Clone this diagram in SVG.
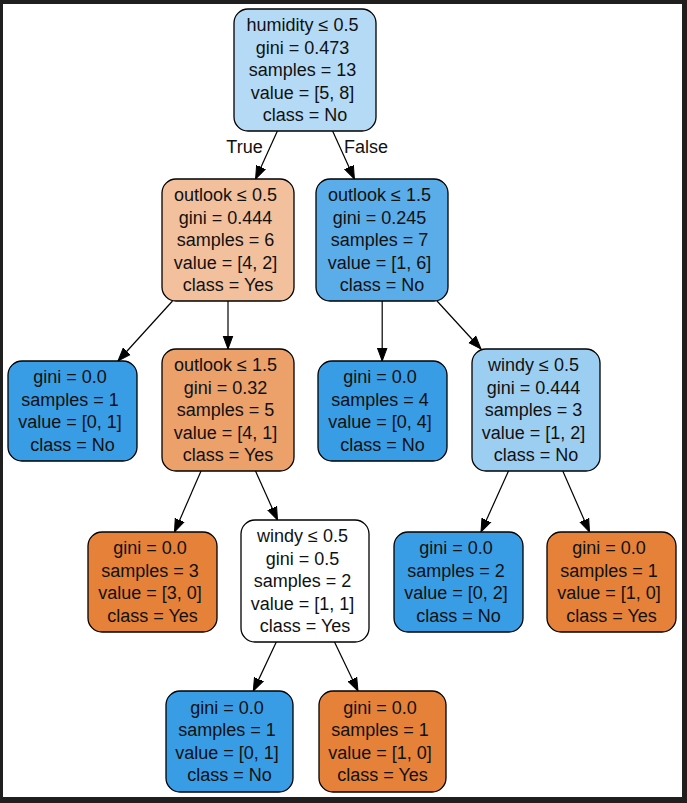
<svg xmlns="http://www.w3.org/2000/svg" width="687" height="803" viewBox="0 0 687 803">
  <style>
    .box { stroke: #000; stroke-width: 1.3; }
    .lbl { font-family: "Liberation Sans", Arial, Helvetica, sans-serif; font-size: 18px; fill: #111; text-anchor: middle; }
    .edge { stroke: #000; stroke-width: 1.2; fill: none; marker-end: url(#arrow); }
  </style>
  <defs>
    <marker id="arrow" markerUnits="userSpaceOnUse" markerWidth="14" markerHeight="12" viewBox="0 -6 14 12" refX="13" refY="0" orient="auto">
      <path d="M0,-4.8 L13,0 L0,4.8 z" fill="#000" stroke="#000" stroke-width="1"/>
    </marker>
  </defs>

  <!-- frame -->
  <rect x="0" y="0" width="687" height="803" fill="#1f1f1f"/>
  <rect x="3" y="4" width="679" height="793" fill="#ffffff"/>

  <!-- connectors -->
  <g id="edges">
    <line class="edge" x1="277.4" y1="131" x2="255.6" y2="179"/>
    <line class="edge" x1="332.6" y1="131" x2="354.4" y2="179"/>
    <line class="edge" x1="172.5" y1="301" x2="118" y2="361"/>
    <line class="edge" x1="228" y1="301" x2="228" y2="349"/>
    <line class="edge" x1="382.2" y1="301" x2="382.2" y2="361"/>
    <line class="edge" x1="437" y1="301" x2="481" y2="349"/>
    <line class="edge" x1="201" y1="471" x2="174.5" y2="532"/>
    <line class="edge" x1="255.5" y1="471" x2="277.5" y2="520"/>
    <line class="edge" x1="508.5" y1="471" x2="481" y2="532"/>
    <line class="edge" x1="562.8" y1="471" x2="589.5" y2="532"/>
    <line class="edge" x1="276.3" y1="642" x2="253.3" y2="691"/>
    <line class="edge" x1="334.5" y1="642" x2="358" y2="691"/>
    <text class="lbl" x="244.5" y="153">True</text>
    <text class="lbl" x="366" y="153">False</text>
  </g>

  <!-- root split -->
  <g id="node0">
    <rect class="box" x="234" y="9" width="142" height="122" rx="14" fill="#b5daf5"/>
    <text class="lbl">
      <tspan x="305" y="31">humidity ≤ 0.5</tspan>
      <tspan x="305" y="53.5">gini = 0.473</tspan>
      <tspan x="305" y="76">samples = 13</tspan>
      <tspan x="305" y="98.5">value = [5, 8]</tspan>
      <tspan x="305" y="121">class = No</tspan>
    </text>
  </g>

  <g id="node1">
    <rect class="box" x="162" y="179" width="132" height="122" rx="14" fill="#f2c09c"/>
    <text class="lbl">
      <tspan x="228" y="201">outlook ≤ 0.5</tspan>
      <tspan x="228" y="223.5">gini = 0.444</tspan>
      <tspan x="228" y="246">samples = 6</tspan>
      <tspan x="228" y="268.5">value = [4, 2]</tspan>
      <tspan x="228" y="291">class = Yes</tspan>
    </text>
  </g>

  <g id="node6">
    <rect class="box" x="316" y="179" width="132" height="122" rx="14" fill="#5aade9"/>
    <text class="lbl">
      <tspan x="382" y="201">outlook ≤ 1.5</tspan>
      <tspan x="382" y="223.5">gini = 0.245</tspan>
      <tspan x="382" y="246">samples = 7</tspan>
      <tspan x="382" y="268.5">value = [1, 6]</tspan>
      <tspan x="382" y="291">class = No</tspan>
    </text>
  </g>

  <g id="node2">
    <rect class="box" x="8" y="361" width="129" height="100" rx="14" fill="#399de5"/>
    <text class="lbl">
      <tspan x="72.5" y="383.3">gini = 0.0</tspan>
      <tspan x="72.5" y="405.8">samples = 1</tspan>
      <tspan x="72.5" y="428.3">value = [0, 1]</tspan>
      <tspan x="72.5" y="450.8">class = No</tspan>
    </text>
  </g>

  <g id="node3">
    <rect class="box" x="162" y="349" width="132" height="122" rx="14" fill="#eca06a"/>
    <text class="lbl">
      <tspan x="228" y="371">outlook ≤ 1.5</tspan>
      <tspan x="228" y="393.5">gini = 0.32</tspan>
      <tspan x="228" y="416">samples = 5</tspan>
      <tspan x="228" y="438.5">value = [4, 1]</tspan>
      <tspan x="228" y="461">class = Yes</tspan>
    </text>
  </g>

  <g id="node7">
    <rect class="box" x="318" y="361" width="129" height="100" rx="14" fill="#399de5"/>
    <text class="lbl">
      <tspan x="382.5" y="383.3">gini = 0.0</tspan>
      <tspan x="382.5" y="405.8">samples = 4</tspan>
      <tspan x="382.5" y="428.3">value = [0, 4]</tspan>
      <tspan x="382.5" y="450.8">class = No</tspan>
    </text>
  </g>

  <g id="node8">
    <rect class="box" x="472" y="349" width="128" height="122" rx="14" fill="#9ccef2"/>
    <text class="lbl">
      <tspan x="536" y="371">windy ≤ 0.5</tspan>
      <tspan x="536" y="393.5">gini = 0.444</tspan>
      <tspan x="536" y="416">samples = 3</tspan>
      <tspan x="536" y="438.5">value = [1, 2]</tspan>
      <tspan x="536" y="461">class = No</tspan>
    </text>
  </g>

  <g id="node4">
    <rect class="box" x="88" y="532" width="129" height="100" rx="14" fill="#e58139"/>
    <text class="lbl">
      <tspan x="152.5" y="554.3">gini = 0.0</tspan>
      <tspan x="152.5" y="576.8">samples = 3</tspan>
      <tspan x="152.5" y="599.3">value = [3, 0]</tspan>
      <tspan x="152.5" y="621.8">class = Yes</tspan>
    </text>
  </g>

  <g id="node5">
    <rect class="box" x="241" y="520" width="128" height="122" rx="14" fill="#ffffff"/>
    <text class="lbl">
      <tspan x="305" y="542">windy ≤ 0.5</tspan>
      <tspan x="305" y="564.5">gini = 0.5</tspan>
      <tspan x="305" y="587">samples = 2</tspan>
      <tspan x="305" y="609.5">value = [1, 1]</tspan>
      <tspan x="305" y="632">class = Yes</tspan>
    </text>
  </g>

  <g id="node9">
    <rect class="box" x="394" y="532" width="129" height="100" rx="14" fill="#399de5"/>
    <text class="lbl">
      <tspan x="458.5" y="554.3">gini = 0.0</tspan>
      <tspan x="458.5" y="576.8">samples = 2</tspan>
      <tspan x="458.5" y="599.3">value = [0, 2]</tspan>
      <tspan x="458.5" y="621.8">class = No</tspan>
    </text>
  </g>

  <g id="node10">
    <rect class="box" x="547" y="532" width="129" height="100" rx="14" fill="#e58139"/>
    <text class="lbl">
      <tspan x="611.5" y="554.3">gini = 0.0</tspan>
      <tspan x="611.5" y="576.8">samples = 1</tspan>
      <tspan x="611.5" y="599.3">value = [1, 0]</tspan>
      <tspan x="611.5" y="621.8">class = Yes</tspan>
    </text>
  </g>

  <g id="node11">
    <rect class="box" x="166" y="691" width="127" height="101" rx="14" fill="#399de5"/>
    <text class="lbl">
      <tspan x="229.5" y="713.8">gini = 0.0</tspan>
      <tspan x="229.5" y="736.3">samples = 1</tspan>
      <tspan x="229.5" y="758.8">value = [0, 1]</tspan>
      <tspan x="229.5" y="781.3">class = No</tspan>
    </text>
  </g>

  <g id="node12">
    <rect class="box" x="319" y="691" width="127" height="101" rx="14" fill="#e58139"/>
    <text class="lbl">
      <tspan x="382.5" y="713.8">gini = 0.0</tspan>
      <tspan x="382.5" y="736.3">samples = 1</tspan>
      <tspan x="382.5" y="758.8">value = [1, 0]</tspan>
      <tspan x="382.5" y="781.3">class = Yes</tspan>
    </text>
  </g>
</svg>
